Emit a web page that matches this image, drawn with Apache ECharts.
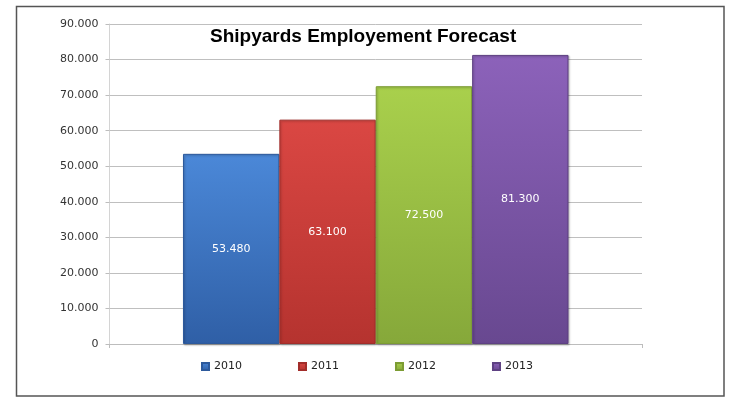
<!DOCTYPE html>
<html>
<head>
<meta charset="utf-8">
<script src="https://cdn.jsdelivr.net/npm/echarts@6/dist/echarts.min.js"></script>
<style>
  html, body { margin: 0; padding: 0; background: #fff; }
  #chart { width: 745px; height: 416px; }
</style>
</head>
<body>
<div id="chart"></div>
<script>
// data
var years = ["2010", "2011", "2012", "2013"];
var employees = [53480, 63100, 72500, 81300];
var yTicks = { min: 0, max: 90000, step: 10000 };

// top / bottom colours for each bar
var barTop = ["#4b88d8", "#da4743", "#a9d04c", "#8c62ba"];
var barBottom = ["#2f5fa6", "#b5332f", "#86a83a", "#684890"];
var barEdge = ["#2d5a9c", "#a22d2a", "#7c9c33", "#5e4183"];

function fmt(v) {
  if (v === 0) return "0";
  return (v / 1000).toFixed(3);
}

var myChart = echarts.init(document.getElementById("chart"));

var series = years.map(function (y, i) {
  return {
    name: y,
    type: "bar",
    barGap: "0%",
    barCategoryGap: "27.6%",
    itemStyle: {
      color: new echarts.graphic.LinearGradient(0, 0, 0, 1, [
        { offset: 0, color: barTop[i] },
        { offset: 1, color: barBottom[i] }
      ]),
      borderColor: barEdge[i],
      borderWidth: 1,
      shadowColor: "rgba(0,0,0,0.25)",
      shadowBlur: 2,
      shadowOffsetX: 1,
      shadowOffsetY: 1
    },
    label: {
      show: true,
      position: "inside",
      color: "#fff",
      fontFamily: "DejaVu Sans",
      fontSize: 11,
      formatter: function (p) { return fmt(p.value); }
    },
    data: [employees[i]]
  };
});

var options = {
  animation: false,
  title: {
    text: "Shipyards Employement Forecast",
    left: 205,
    top: 22,
    textStyle: {
      fontFamily: "Liberation Sans",
      fontWeight: "bold",
      fontSize: 19,
      color: "#000"
    }
  },
  legend: {
    data: years,
    left: 196,
    top: 356,
    icon: "rect",
    itemWidth: 7,
    itemHeight: 7,
    itemGap: 56,
    textStyle: {
      fontFamily: "DejaVu Sans",
      fontSize: 11,
      color: "#222"
    }
  },
  grid: {
    left: 109.5,
    right: 103,
    top: 24,
    bottom: 72
  },
  xAxis: {
    type: "category",
    data: [""],
    axisLine: { lineStyle: { color: "#bdbdbd" } },
    axisTick: { show: true, length: 4, lineStyle: { color: "#bdbdbd" } },
    axisLabel: { show: false }
  },
  yAxis: {
    type: "value",
    min: yTicks.min,
    max: yTicks.max,
    interval: yTicks.step,
    axisLine: { show: true, lineStyle: { color: "#d4d4d4" } },
    axisTick: { show: true, length: 4, lineStyle: { color: "#bdbdbd" } },
    axisLabel: {
      margin: 11,
      fontFamily: "DejaVu Sans",
      fontSize: 11,
      color: "#333",
      formatter: fmt
    },
    splitLine: { lineStyle: { color: "#bfbfbf" } }
  },
  graphic: [
    {
      type: "rect",
      shape: { x: 16.5, y: 6.5, width: 707.5, height: 389.5 },
      style: { fill: null, stroke: "#555", lineWidth: 1.5 },
      silent: true
    }
  ],
  series: series
};

myChart.setOption(options);
</script>
</body>
</html>
